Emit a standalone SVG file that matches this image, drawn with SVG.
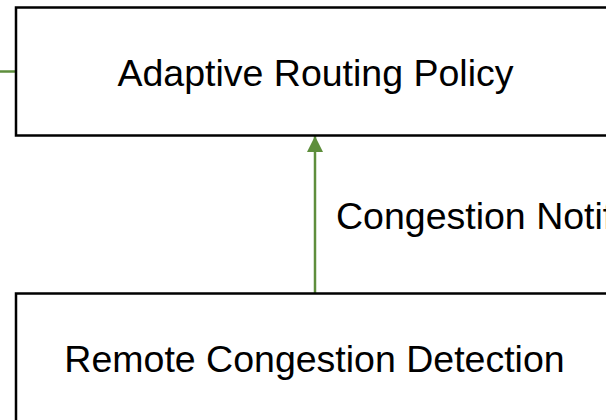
<svg xmlns="http://www.w3.org/2000/svg" width="606" height="420" viewBox="0 0 606 420">
  <style>
    .node rect { fill: #ffffff; stroke: #000000; stroke-width: 2.5; }
    .node text { font-family: "Liberation Sans", Arial, sans-serif; font-size: 37.5px; fill: #000000; text-anchor: middle; }
    .edge { stroke: #5e8e3c; stroke-width: 2.5; fill: none; }
    .edge-label { font-family: "Liberation Sans", Arial, sans-serif; font-size: 37.5px; fill: #000000; }
  </style>
  <defs>
    <marker id="arrow" viewBox="0 0 16 16" refX="16" refY="8" markerWidth="16" markerHeight="16" markerUnits="userSpaceOnUse" orient="auto">
      <path d="M0,0 L16,8 L0,16 Z" fill="#5e8e3c"/>
    </marker>
  </defs>
  <rect width="606" height="420" fill="#ffffff"/>

  <g id="connectors">
    <line class="edge" x1="0" y1="71.5" x2="16" y2="71.5"/>
    <line class="edge" x1="315" y1="293" x2="315" y2="136" marker-end="url(#arrow)"/>
    <text class="edge-label" x="336" y="228.5">Congestion Notif</text>
  </g>

  <g id="adaptive-routing-policy" class="node">
    <rect x="16" y="7.5" width="600" height="128"/>
    <text x="315.5" y="85.5">Adaptive Routing Policy</text>
  </g>

  <g id="remote-congestion-detection" class="node">
    <rect x="16" y="293.5" width="600" height="140"/>
    <text x="314.5" y="372">Remote Congestion Detection</text>
  </g>
</svg>
